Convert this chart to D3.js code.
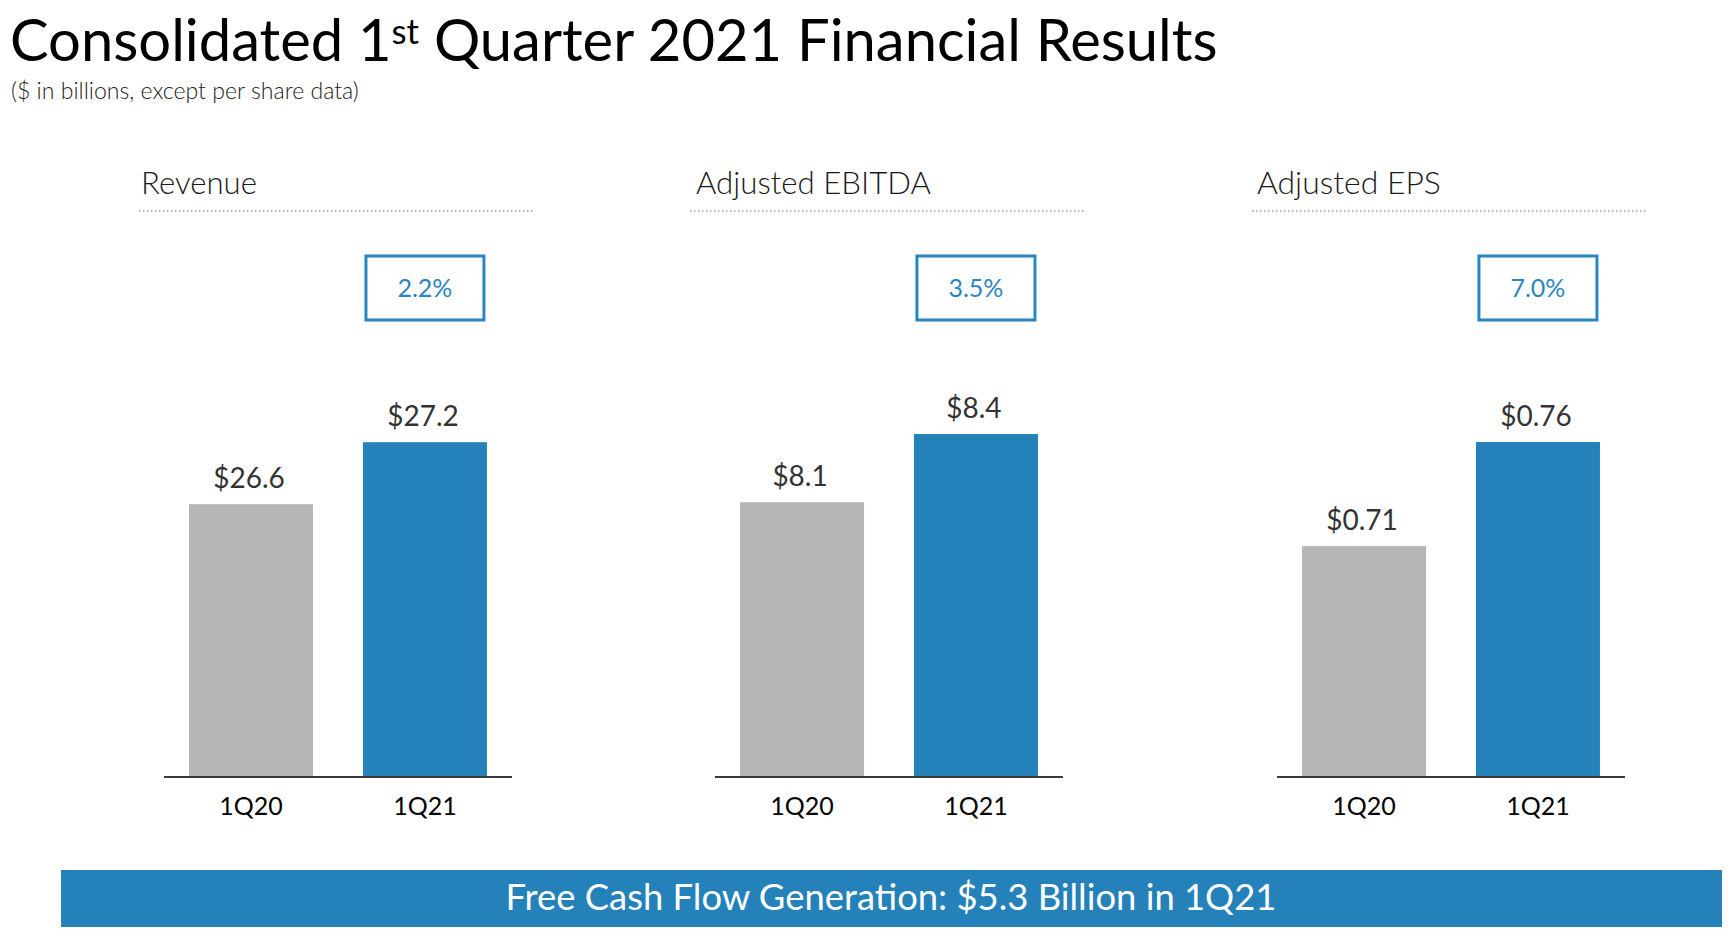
<!DOCTYPE html>
<html>
<head>
<meta charset="utf-8">
<script src="https://cdn.jsdelivr.net/npm/d3@7"></script>
<style>
  html, body { margin: 0; padding: 0; background: #fff; }
  svg { display: block; font-family: Lato, "Noto Sans", sans-serif; }
</style>
</head>
<body>
<svg id="chart" width="1734" height="936"></svg>
<script>
// ---- data ----
const panelTitles = ["Revenue", "Adjusted EBITDA", "Adjusted EPS"];
const periods = ["1Q20", "1Q21"];
const revenueValues = [26.6, 27.2];
const ebitdaValues = [8.1, 8.4];
const epsValues = [0.71, 0.76];
const growthLabels = ["2.2%", "3.5%", "7.0%"];
const valueFormats = ["$.1f", "$.1f", "$.2f"];
const axisMins = [23.96, 6.89, 0.599];   // truncated value axis (bottom)
const axisMaxs = [29.96, 9.62, 0.897];   // value at top of plot range
const titleText = ["Consolidated 1", "st", " Quarter 2021 Financial Results"];
const subtitleText = "($ in billions, except per share data)";
const footerText = "Free Cash Flow Generation: $5.3 Billion in 1Q21";

const seriesValues = [revenueValues, ebitdaValues, epsValues];

// ---- layout ----
const BLUE = "#2481BA", GRAY = "#B7B7B7";
const panelX = [164, 715, 1277];
const panelW = 348;
const titleX = [141, 696, 1257];
const titleW = [116, 235, 184];
const baseY = 777, topY = 157;

const svg = d3.select("#chart");

function fitWidth(sel, target) {
  const node = sel.node();
  const w = node.getComputedTextLength();
  const fs = parseFloat(sel.attr("font-size"));
  sel.attr("font-size", fs * target / w);
}

// Title
const title = svg.append("text")
  .attr("x", 10).attr("y", 61)
  .attr("font-size", 50).attr("fill", "#000");
title.append("tspan").text(titleText[0]);
title.append("tspan").attr("font-size", 30).attr("dy", -17).text(titleText[1]);
title.append("tspan").attr("dy", 17).text(titleText[2]);
{
  const w = title.node().getBBox().width;
  const k = 1208 / w;
  title.attr("font-size", 50 * k);
  title.selectAll("tspan").filter((d, i) => i === 1).attr("font-size", 30 * k);
}

// Subtitle
const sub = svg.append("text")
  .attr("x", 11).attr("y", 99)
  .attr("font-size", 19).attr("fill", "#222")
  .attr("font-weight", 300)
  .text(subtitleText);
fitWidth(sub, 348);

// Panels
panelTitles.forEach((pt, i) => {
  const g = svg.append("g");
  const x = d3.scaleBand().domain(periods)
    .range([panelX[i], panelX[i] + panelW])
    .paddingInner(0.287).paddingOuter(0.144);
  const y = d3.scaleLinear().domain([axisMins[i], axisMaxs[i]]).range([baseY, topY]);
  const vals = seriesValues[i];
  const fmt = d3.format(valueFormats[i]);

  // panel title
  const t = g.append("text")
    .attr("x", titleX[i]).attr("y", 194)
    .attr("font-size", 28).attr("fill", "#1a1a1a")
    .attr("font-weight", 300)
    .text(pt);
  fitWidth(t, titleW[i]);
  // dotted rule
  g.append("line")
    .attr("x1", panelX[i] - 25).attr("x2", panelX[i] + panelW + 21)
    .attr("y1", 211).attr("y2", 211)
    .attr("stroke", "#9a9a9a").attr("stroke-width", 1.5)
    .attr("stroke-dasharray", "1.5,2.5");

  // bars
  g.selectAll("rect.bar").data(periods).enter().append("rect")
    .attr("class", "bar")
    .attr("x", d => x(d))
    .attr("width", x.bandwidth())
    .attr("y", (d, j) => y(vals[j]))
    .attr("height", (d, j) => baseY - y(vals[j]))
    .attr("fill", (d, j) => j === 0 ? GRAY : BLUE);

  // value labels
  g.selectAll("text.val").data(periods).enter().append("text")
    .attr("class", "val")
    .attr("x", d => x(d) + x.bandwidth() / 2 - 2)
    .attr("y", (d, j) => y(vals[j]) - 16)
    .attr("text-anchor", "middle")
    .attr("font-size", 28).attr("fill", "#333")
    .text((d, j) => fmt(vals[j]));

  // x axis
  const axis = d3.axisBottom(x).tickSize(0).tickPadding(0);
  const ag = g.append("g").attr("transform", `translate(0,${baseY})`).call(axis);
  ag.select(".domain").attr("stroke", "#3a3a3a").attr("stroke-width", 2)
    .attr("d", `M${panelX[i]},0H${panelX[i] + panelW}`);
  ag.selectAll(".tick text")
    .attr("y", 38).attr("dy", null)
    .attr("font-family", "Lato, sans-serif")
    .attr("font-size", 25).attr("fill", "#000");

  // growth box over second bar
  const cx = x(periods[1]) + x.bandwidth() / 2;
  g.append("rect")
    .attr("x", cx - 59).attr("y", 256)
    .attr("width", 118).attr("height", 64)
    .attr("fill", "none").attr("stroke", "#2A86C2").attr("stroke-width", 3);
  g.append("text")
    .attr("x", cx).attr("y", 297)
    .attr("text-anchor", "middle")
    .attr("font-size", 25).attr("fill", "#2A86C2")
    .text(growthLabels[i]);
});

// Footer band
svg.append("rect")
  .attr("x", 61).attr("y", 870)
  .attr("width", 1661).attr("height", 57)
  .attr("fill", BLUE);
const ft = svg.append("text")
  .attr("x", 891).attr("y", 910)
  .attr("text-anchor", "middle")
  .attr("font-size", 33).attr("fill", "#fff")
  .text(footerText);
fitWidth(ft, 771);
</script>
</body>
</html>
